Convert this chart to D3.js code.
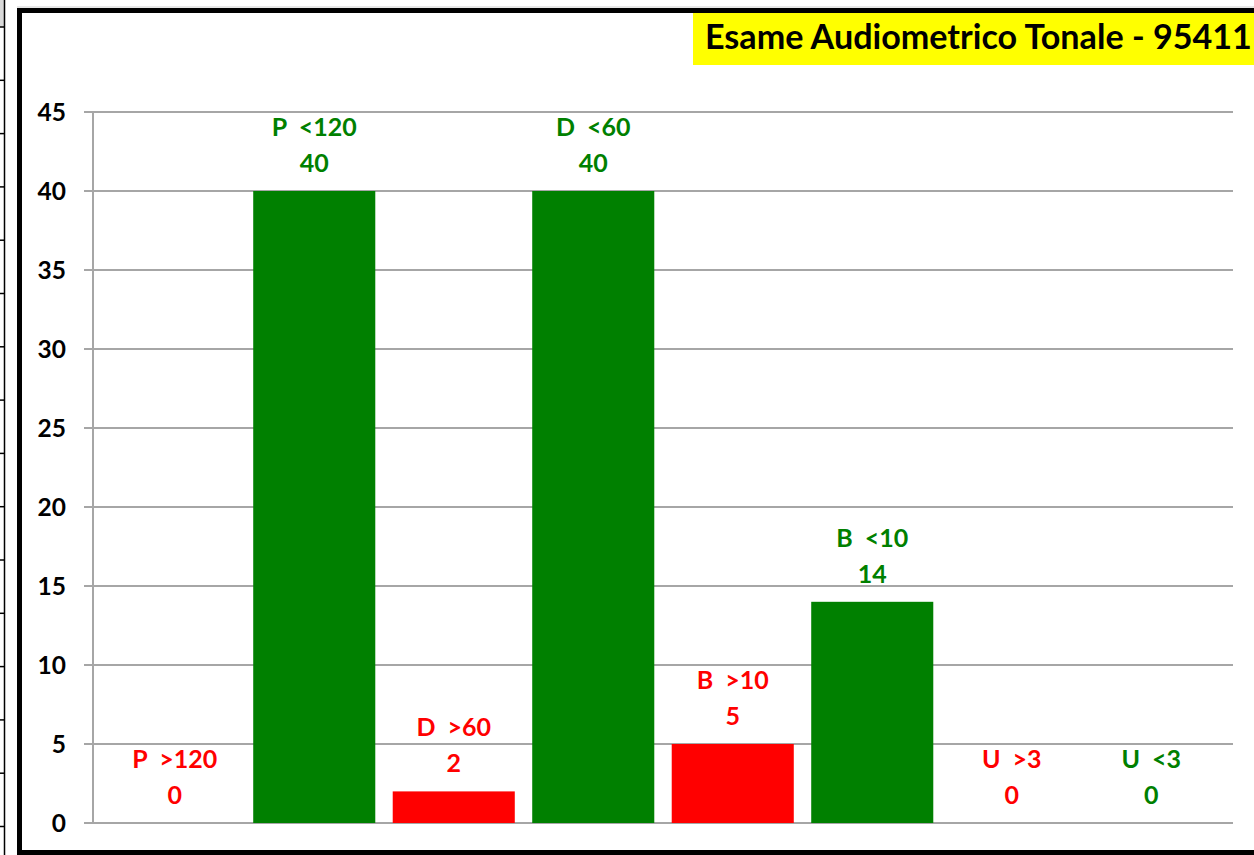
<!DOCTYPE html>
<html>
<head>
<meta charset="utf-8">
<script src="https://cdn.jsdelivr.net/npm/d3@7"></script>
<style>
  html, body { margin: 0; padding: 0; background: #fff; overflow: hidden; }
  svg { display: block; }
  text { font-family: Lato, "Open Sans", sans-serif; font-weight: bold; }
</style>
</head>
<body>
<svg id="chart" width="1254" height="855"></svg>
<script>
// ---- data ----
const categories = ["P  >120", "P  <120", "D  >60", "D  <60", "B  >10", "B  <10", "U  >3", "U  <3"];
const values     = [0, 40, 2, 40, 5, 14, 0, 0];
const status     = ["bad", "good", "bad", "good", "bad", "good", "bad", "good"];
const yTicks     = [0, 5, 10, 15, 20, 25, 30, 35, 40, 45];
const titleText  = "Esame Audiometrico Tonale - 95411";

const colors = { good: "#008000", bad: "#ff0000" };
const svg = d3.select("#chart");

// ---- spreadsheet background strip on the left ----
svg.append("rect").attr("x", 0).attr("y", 0).attr("width", 4).attr("height", 27).attr("fill", "#d9d9d9");
svg.append("line").attr("x1", 4.5).attr("x2", 4.5).attr("y1", 0).attr("y2", 855)
   .attr("stroke", "#000").attr("stroke-width", 1.5);
const rowLines = d3.range(0, 16).map(i => 27 + i * 53.3).filter(y => y > 0);
svg.selectAll("line.row").data(rowLines).join("line")
   .attr("x1", 0).attr("x2", 5).attr("y1", d => d).attr("y2", d => d)
   .attr("stroke", "#000").attr("stroke-width", 1.5);
svg.append("line").attr("x1", 17).attr("x2", 1254).attr("y1", 7).attr("y2", 7)
   .attr("stroke", "#d0d0d0").attr("stroke-width", 1);

// ---- chart frame ----
svg.append("rect").attr("x", 19.5).attr("y", 10.5).attr("width", 1260).attr("height", 842)
   .attr("fill", "#fff").attr("stroke", "#000").attr("stroke-width", 5);

// ---- scales ----
const x = d3.scaleBand().domain(categories).range([93, 1233])
  .paddingInner(0.125).paddingOuter(0.1485);
const y = d3.scaleLinear().domain([0, 45]).range([823, 112]);

// gridlines
svg.append("g").selectAll("line").data(yTicks).join("line")
  .attr("x1", 84).attr("x2", 1233)
  .attr("y1", d => Math.round(y(d))).attr("y2", d => Math.round(y(d)))
  .attr("stroke", "#a6a6a6").attr("stroke-width", 2);
// y axis line
svg.append("line").attr("x1", 93).attr("x2", 93).attr("y1", y(45)).attr("y2", y(0))
  .attr("stroke", "#a6a6a6").attr("stroke-width", 2);

// y tick labels
svg.append("g").selectAll("text").data(yTicks).join("text")
  .attr("x", 66).attr("y", d => y(d) + 9)
  .attr("text-anchor", "end").attr("font-size", 24.5).attr("fill", "#000")
  .text(d => d);

// bars
svg.append("g").selectAll("rect").data(values).join("rect")
  .attr("x", (d, i) => x(categories[i]))
  .attr("width", x.bandwidth())
  .attr("y", d => y(d))
  .attr("height", d => y(0) - y(d))
  .attr("fill", (d, i) => colors[status[i]]);

// data labels (two lines)
const lbl = svg.append("g");
values.forEach((v, i) => {
  const cx = x(categories[i]) + x.bandwidth() / 2;
  const top = y(v);
  lbl.append("text").attr("x", cx).attr("y", top - 55)
    .attr("text-anchor", "middle").attr("font-size", 25)
    .attr("fill", colors[status[i]]).style("white-space", "pre")
    .text(categories[i]);
  lbl.append("text").attr("x", cx).attr("y", top - 19)
    .attr("text-anchor", "middle").attr("font-size", 25)
    .attr("fill", colors[status[i]])
    .text(v);
});

// title with yellow background
svg.append("rect").attr("x", 693).attr("y", 13).attr("width", 600).attr("height", 52).attr("fill", "#ffff00");
const t = svg.append("text").attr("x", 705).attr("y", 49).attr("font-size", 28).attr("fill", "#000").text(titleText);
const w = t.node().getComputedTextLength();
t.attr("font-size", 28 * 547 / w);
</script>
</body>
</html>
